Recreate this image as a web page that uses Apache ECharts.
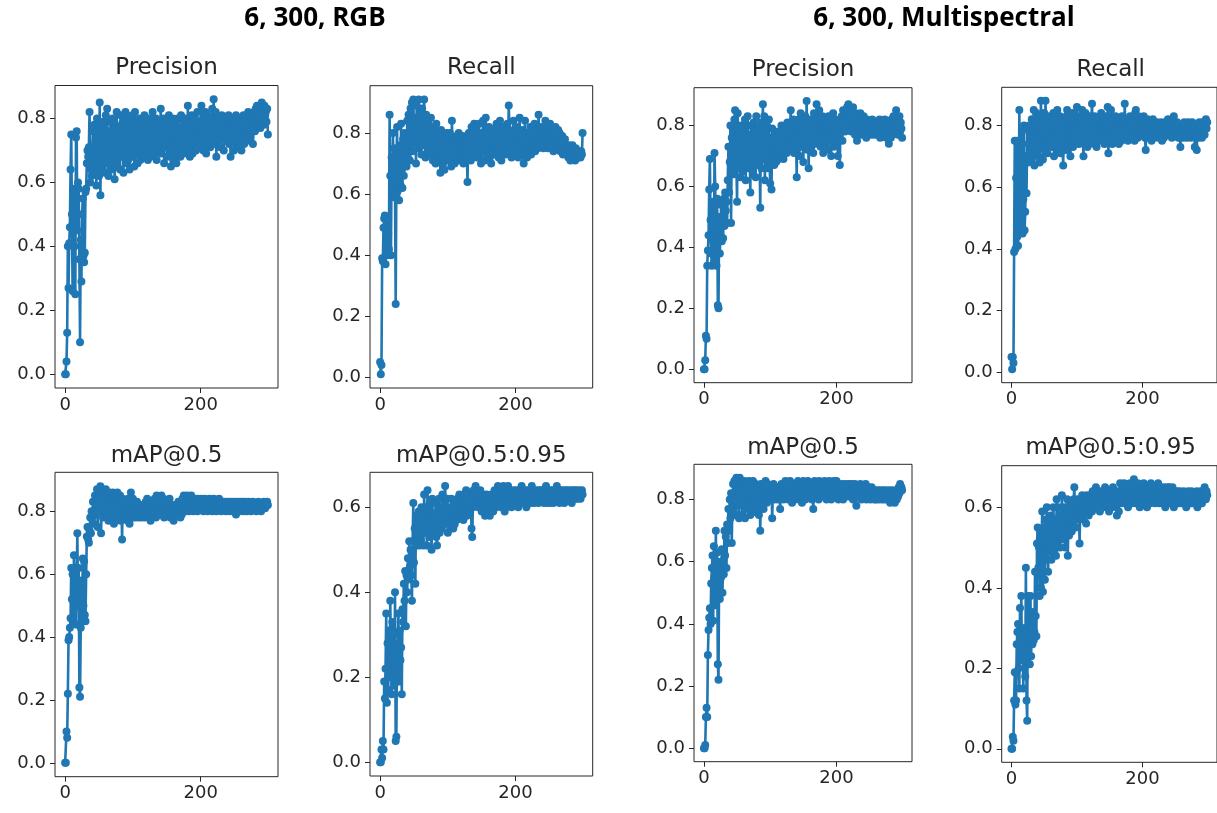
<!DOCTYPE html>
<html>
<head>
<meta charset="utf-8">
<script src="https://cdn.jsdelivr.net/npm/echarts@6/dist/echarts.min.js"></script>
<style>
  html, body { margin: 0; padding: 0; background: #ffffff; }
  #chart { width: 1217px; height: 813px; }
</style>
</head>
<body>
<div id="chart"></div>
<script>
// Per-epoch validation metrics, 300 epochs each.
const rgbPrecision = [
  0.00,0.00,0.04,0.13,0.40,0.27,0.41,0.46,0.64,0.75,0.50,0.26,0.58,0.47,0.40,0.25,0.74,0.76,0.45,0.60,
  0.58,0.36,0.10,0.42,0.29,0.50,0.55,0.37,0.35,0.38,0.57,0.58,0.66,0.70,0.68,0.71,0.82,0.60,0.64,0.62,
  0.70,0.76,0.63,0.78,0.66,0.72,0.59,0.80,0.68,0.74,0.62,0.85,0.56,0.77,0.70,0.64,0.79,0.67,0.73,0.63,
  0.81,0.66,0.83,0.70,0.62,0.76,0.68,0.79,0.64,0.72,0.80,0.66,0.74,0.61,0.78,0.69,0.82,0.65,0.75,0.70,
  0.77,0.64,0.81,0.71,0.68,0.79,0.63,0.75,0.70,0.82,0.66,0.73,0.78,0.67,0.80,0.64,0.76,0.69,0.74,0.81,
  0.68,0.77,0.65,0.82,0.72,0.69,0.79,0.66,0.75,0.71,0.80,0.67,0.74,0.78,0.70,0.76,0.68,0.81,0.72,0.75,
  0.70,0.79,0.67,0.77,0.73,0.80,0.68,0.76,0.71,0.82,0.69,0.74,0.78,0.72,0.80,0.67,0.75,0.79,0.70,0.77,
  0.73,0.83,0.69,0.78,0.71,0.80,0.66,0.76,0.72,0.79,0.74,0.68,0.77,0.81,0.70,0.75,0.65,0.78,0.72,0.80,
  0.67,0.76,0.73,0.79,0.66,0.74,0.80,0.70,0.77,0.72,0.68,0.81,0.75,0.71,0.78,0.69,0.76,0.80,0.73,0.77,
  0.70,0.84,0.74,0.79,0.68,0.77,0.72,0.81,0.69,0.76,0.80,0.73,0.78,0.70,0.75,0.82,0.71,0.77,0.74,0.79,
  0.72,0.84,0.76,0.80,0.70,0.78,0.74,0.82,0.69,0.77,0.81,0.73,0.79,0.75,0.71,0.80,0.76,0.83,0.74,0.86,
  0.78,0.72,0.82,0.68,0.77,0.75,0.80,0.73,0.79,0.71,0.76,0.81,0.74,0.78,0.70,0.77,0.80,0.73,0.76,0.79,
  0.74,0.81,0.72,0.78,0.68,0.76,0.80,0.73,0.77,0.70,0.79,0.74,0.81,0.72,0.76,0.78,0.71,0.80,0.75,0.77,
  0.70,0.79,0.74,0.81,0.72,0.77,0.80,0.75,0.78,0.73,0.82,0.76,0.79,0.74,0.81,0.77,0.80,0.72,0.78,0.82,
  0.76,0.83,0.79,0.84,0.78,0.81,0.80,0.84,0.77,0.82,0.85,0.80,0.83,0.78,0.84,0.81,0.82,0.79,0.83,0.75
];
const rgbRecall = [
  0.05,0.01,0.04,0.39,0.38,0.49,0.52,0.53,0.37,0.45,0.50,0.40,0.47,0.42,0.86,0.66,0.40,0.72,0.62,0.80,
  0.59,0.75,0.60,0.24,0.65,0.82,0.61,0.70,0.58,0.76,0.63,0.83,0.68,0.62,0.78,0.66,0.80,0.71,0.74,0.69,
  0.84,0.72,0.86,0.76,0.71,0.88,0.79,0.90,0.74,0.91,0.81,0.77,0.85,0.70,0.89,0.82,0.75,0.91,0.78,0.87,
  0.80,0.73,0.88,0.76,0.84,0.91,0.78,0.72,0.86,0.79,0.74,0.83,0.77,0.81,0.73,0.85,0.76,0.80,0.71,0.82,
  0.75,0.79,0.70,0.83,0.77,0.72,0.80,0.74,0.78,0.67,0.81,0.73,0.76,0.70,0.79,0.68,0.77,0.74,0.80,0.72,
  0.78,0.71,0.76,0.80,0.74,0.69,0.84,0.75,0.72,0.78,0.70,0.77,0.73,0.79,0.76,0.71,0.80,0.74,0.77,0.72,
  0.76,0.73,0.79,0.70,0.75,0.78,0.72,0.77,0.74,0.64,0.76,0.80,0.73,0.78,0.71,0.82,0.75,0.79,0.73,0.83,
  0.77,0.74,0.81,0.72,0.79,0.75,0.83,0.73,0.78,0.70,0.80,0.76,0.84,0.74,0.78,0.71,0.85,0.77,0.73,0.80,
  0.75,0.82,0.72,0.79,0.70,0.77,0.81,0.74,0.78,0.73,0.80,0.76,0.83,0.75,0.82,0.72,0.79,0.84,0.76,0.71,
  0.78,0.74,0.82,0.76,0.80,0.73,0.79,0.75,0.83,0.77,0.89,0.81,0.74,0.78,0.72,0.80,0.76,0.84,0.73,0.79,
  0.75,0.82,0.77,0.80,0.72,0.78,0.85,0.74,0.79,0.76,0.81,0.73,0.70,0.77,0.84,0.75,0.80,0.72,0.78,0.74,
  0.79,0.76,0.82,0.73,0.78,0.75,0.80,0.77,0.83,0.74,0.79,0.76,0.81,0.75,0.86,0.78,0.77,0.82,0.76,0.80,
  0.78,0.75,0.81,0.77,0.84,0.76,0.79,0.82,0.75,0.80,0.77,0.83,0.76,0.79,0.81,0.78,0.74,0.80,0.77,0.82,
  0.76,0.79,0.75,0.81,0.77,0.80,0.74,0.78,0.76,0.79,0.73,0.77,0.75,0.78,0.74,0.76,0.73,0.75,0.72,0.76,
  0.74,0.71,0.75,0.73,0.76,0.72,0.74,0.73,0.71,0.75,0.72,0.74,0.73,0.72,0.74,0.73,0.72,0.74,0.73,0.80
];
const rgbMap50 = [
  0.00,0.00,0.10,0.08,0.22,0.39,0.40,0.43,0.46,0.62,0.52,0.60,0.45,0.66,0.55,0.62,0.44,0.58,0.73,0.50,
  0.62,0.24,0.21,0.43,0.58,0.45,0.65,0.50,0.64,0.47,0.45,0.60,0.72,0.75,0.71,0.70,0.74,0.78,0.73,0.80,
  0.78,0.83,0.76,0.80,0.85,0.79,0.82,0.87,0.75,0.84,0.86,0.80,0.88,0.73,0.83,0.85,0.78,0.86,0.81,0.84,
  0.87,0.79,0.85,0.82,0.77,0.86,0.80,0.84,0.78,0.83,0.86,0.81,0.76,0.85,0.79,0.84,0.82,0.86,0.78,0.83,
  0.80,0.85,0.77,0.82,0.71,0.84,0.79,0.83,0.81,0.78,0.82,0.80,0.77,0.84,0.79,0.76,0.83,0.86,0.81,0.78,
  0.84,0.80,0.82,0.78,0.81,0.79,0.83,0.80,0.78,0.82,0.79,0.81,0.78,0.80,0.82,0.79,0.81,0.78,0.80,0.83,
  0.79,0.84,0.81,0.78,0.82,0.80,0.77,0.83,0.80,0.79,0.82,0.81,0.84,0.80,0.78,0.85,0.82,0.79,0.81,0.80,
  0.83,0.79,0.85,0.81,0.80,0.84,0.78,0.82,0.80,0.83,0.79,0.81,0.82,0.80,0.84,0.78,0.81,0.79,0.82,0.80,
  0.77,0.80,0.79,0.82,0.81,0.80,0.79,0.83,0.80,0.82,0.78,0.81,0.79,0.84,0.80,0.85,0.81,0.83,0.80,0.82,
  0.85,0.81,0.83,0.80,0.84,0.82,0.85,0.81,0.83,0.80,0.82,0.84,0.81,0.83,0.82,0.80,0.84,0.82,0.81,0.83,
  0.82,0.84,0.81,0.83,0.80,0.82,0.84,0.81,0.83,0.82,0.80,0.83,0.81,0.84,0.82,0.81,0.83,0.80,0.82,0.84,
  0.81,0.83,0.82,0.80,0.83,0.81,0.82,0.84,0.81,0.82,0.80,0.83,0.81,0.82,0.83,0.81,0.82,0.80,0.83,0.82,
  0.81,0.83,0.82,0.80,0.82,0.83,0.81,0.82,0.80,0.83,0.82,0.81,0.79,0.82,0.83,0.81,0.82,0.80,0.83,0.81,
  0.82,0.81,0.83,0.80,0.82,0.81,0.83,0.82,0.80,0.82,0.81,0.83,0.82,0.81,0.80,0.82,0.81,0.83,0.82,0.81,
  0.81,0.82,0.80,0.82,0.81,0.83,0.82,0.81,0.82,0.80,0.82,0.81,0.82,0.83,0.82,0.81,0.82,0.82,0.83,0.82
];
const rgbMap5095 = [
  0.00,0.00,0.03,0.01,0.05,0.03,0.19,0.15,0.22,0.35,0.14,0.28,0.17,0.31,0.20,0.38,0.25,0.16,0.33,0.22,
  0.30,0.18,0.40,0.05,0.06,0.28,0.22,0.35,0.19,0.31,0.24,0.27,0.16,0.36,0.33,0.42,0.38,0.45,0.32,0.44,
  0.40,0.48,0.43,0.52,0.46,0.50,0.44,0.38,0.52,0.61,0.47,0.55,0.42,0.58,0.51,0.56,0.53,0.59,0.51,0.57,
  0.52,0.60,0.55,0.58,0.51,0.63,0.57,0.54,0.60,0.51,0.64,0.56,0.59,0.53,0.61,0.55,0.50,0.62,0.57,0.54,
  0.58,0.55,0.61,0.53,0.51,0.59,0.56,0.62,0.54,0.60,0.57,0.55,0.63,0.58,0.56,0.61,0.65,0.59,0.57,0.62,
  0.54,0.60,0.56,0.58,0.55,0.62,0.57,0.59,0.55,0.61,0.56,0.58,0.60,0.57,0.62,0.58,0.60,0.63,0.59,0.61,
  0.58,0.62,0.60,0.57,0.63,0.59,0.61,0.64,0.58,0.62,0.60,0.63,0.59,0.61,0.62,0.55,0.53,0.60,0.64,0.61,
  0.63,0.65,0.61,0.64,0.62,0.60,0.63,0.61,0.64,0.62,0.59,0.63,0.61,0.60,0.62,0.58,0.61,0.63,0.60,0.59,
  0.62,0.60,0.58,0.61,0.63,0.60,0.62,0.59,0.61,0.64,0.62,0.60,0.63,0.61,0.65,0.62,0.64,0.61,0.63,0.60,
  0.64,0.62,0.65,0.61,0.59,0.63,0.60,0.64,0.62,0.65,0.63,0.61,0.64,0.62,0.60,0.63,0.61,0.64,0.62,0.63,
  0.61,0.64,0.62,0.63,0.60,0.64,0.62,0.61,0.63,0.65,0.62,0.64,0.61,0.63,0.62,0.64,0.60,0.63,0.61,0.64,
  0.62,0.64,0.63,0.61,0.65,0.62,0.64,0.63,0.61,0.63,0.62,0.64,0.62,0.63,0.61,0.64,0.63,0.62,0.64,0.63,
  0.62,0.64,0.61,0.63,0.62,0.65,0.63,0.61,0.64,0.62,0.63,0.61,0.64,0.62,0.63,0.64,0.61,0.63,0.62,0.64,
  0.63,0.65,0.62,0.64,0.63,0.61,0.64,0.62,0.63,0.64,0.62,0.63,0.61,0.64,0.63,0.62,0.64,0.63,0.62,0.63,
  0.64,0.62,0.63,0.61,0.64,0.63,0.62,0.64,0.63,0.62,0.64,0.63,0.62,0.63,0.64,0.63,0.62,0.63,0.64,0.63
];
const msPrecision = [
  0.00,0.00,0.03,0.11,0.10,0.34,0.39,0.44,0.59,0.69,0.49,0.38,0.34,0.55,0.42,0.35,0.71,0.60,0.45,0.34,
  0.56,0.21,0.20,0.50,0.38,0.44,0.54,0.42,0.48,0.43,0.56,0.47,0.58,0.52,0.55,0.48,0.62,0.73,0.58,0.68,
  0.80,0.48,0.76,0.70,0.78,0.64,0.82,0.85,0.72,0.68,0.55,0.84,0.66,0.78,0.71,0.63,0.80,0.69,0.75,0.65,
  0.79,0.67,0.82,0.62,0.74,0.70,0.83,0.66,0.77,0.72,0.58,0.80,0.68,0.75,0.64,0.81,0.71,0.78,0.63,0.83,
  0.70,0.76,0.67,0.79,0.72,0.53,0.81,0.66,0.74,0.87,0.69,0.83,0.62,0.77,0.71,0.80,0.66,0.75,0.82,0.68,
  0.61,0.76,0.59,0.79,0.70,0.74,0.67,0.77,0.72,0.68,0.75,0.71,0.78,0.69,0.73,0.76,0.70,0.80,0.72,0.74,
  0.69,0.78,0.73,0.80,0.75,0.71,0.81,0.74,0.77,0.72,0.79,0.85,0.73,0.78,0.76,0.82,0.71,0.79,0.74,0.77,
  0.63,0.80,0.75,0.82,0.70,0.78,0.84,0.73,0.79,0.76,0.68,0.81,0.74,0.83,0.77,0.88,0.72,0.80,0.66,0.78,
  0.75,0.82,0.73,0.79,0.77,0.71,0.84,0.76,0.80,0.74,0.87,0.78,0.82,0.75,0.85,0.79,0.73,0.81,0.76,0.83,
  0.71,0.79,0.76,0.82,0.74,0.80,0.77,0.72,0.83,0.78,0.75,0.81,0.70,0.79,0.76,0.84,0.73,0.80,0.77,0.82,
  0.74,0.81,0.70,0.79,0.76,0.67,0.80,0.78,0.83,0.75,0.85,0.80,0.82,0.78,0.84,0.81,0.86,0.79,0.87,0.83,
  0.80,0.85,0.78,0.83,0.81,0.86,0.79,0.82,0.77,0.84,0.80,0.75,0.83,0.79,0.81,0.78,0.84,0.80,0.77,0.82,
  0.79,0.83,0.77,0.81,0.80,0.76,0.82,0.78,0.80,0.79,0.81,0.77,0.80,0.78,0.82,0.79,0.77,0.81,0.80,0.78,
  0.80,0.77,0.81,0.79,0.78,0.82,0.76,0.80,0.79,0.81,0.77,0.80,0.78,0.82,0.79,0.76,0.80,0.78,0.81,0.74,
  0.78,0.80,0.76,0.82,0.79,0.77,0.83,0.80,0.78,0.81,0.85,0.79,0.82,0.77,0.80,0.83,0.78,0.81,0.79,0.76
];
const msRecall = [
  0.05,0.01,0.05,0.03,0.39,0.75,0.40,0.63,0.75,0.44,0.41,0.47,0.85,0.46,0.60,0.50,0.78,0.45,0.56,0.80,
  0.46,0.52,0.70,0.58,0.79,0.68,0.74,0.80,0.71,0.77,0.69,0.82,0.73,0.78,0.85,0.67,0.80,0.72,0.84,0.75,
  0.79,0.70,0.83,0.68,0.76,0.88,0.73,0.81,0.69,0.78,0.84,0.72,0.88,0.75,0.80,0.71,0.83,0.77,0.74,0.82,
  0.76,0.81,0.73,0.79,0.84,0.70,0.78,0.82,0.74,0.80,0.85,0.72,0.79,0.76,0.83,0.71,0.80,0.77,0.73,0.67,
  0.81,0.75,0.78,0.72,0.83,0.85,0.74,0.79,0.76,0.82,0.70,0.80,0.77,0.84,0.73,0.79,0.81,0.75,0.78,0.83,
  0.86,0.76,0.81,0.74,0.79,0.83,0.77,0.80,0.85,0.75,0.70,0.82,0.78,0.84,0.76,0.80,0.73,0.81,0.77,0.83,
  0.79,0.75,0.82,0.87,0.77,0.80,0.74,0.83,0.78,0.81,0.73,0.79,0.76,0.82,0.75,0.80,0.78,0.84,0.76,0.81,
  0.77,0.82,0.74,0.80,0.78,0.83,0.75,0.86,0.71,0.79,0.81,0.76,0.85,0.78,0.74,0.82,0.77,0.80,0.75,0.83,
  0.78,0.81,0.76,0.80,0.74,0.82,0.77,0.79,0.75,0.83,0.78,0.80,0.76,0.87,0.79,0.81,0.77,0.82,0.75,0.80,
  0.78,0.83,0.76,0.81,0.79,0.77,0.82,0.80,0.75,0.84,0.85,0.78,0.81,0.76,0.83,0.79,0.77,0.82,0.80,0.78,
  0.81,0.77,0.83,0.79,0.76,0.72,0.80,0.78,0.82,0.76,0.79,0.81,0.77,0.80,0.75,0.78,0.82,0.76,0.79,0.77,
  0.80,0.77,0.81,0.78,0.76,0.80,0.79,0.77,0.81,0.78,0.75,0.80,0.78,0.76,0.81,0.79,0.77,0.80,0.78,0.82,
  0.79,0.77,0.81,0.78,0.80,0.76,0.79,0.82,0.83,0.78,0.80,0.77,0.79,0.81,0.78,0.76,0.80,0.77,0.73,0.79,
  0.78,0.80,0.76,0.79,0.81,0.77,0.80,0.78,0.76,0.79,0.81,0.78,0.77,0.80,0.76,0.79,0.81,0.77,0.78,0.80,
  0.73,0.79,0.77,0.72,0.80,0.78,0.76,0.81,0.77,0.79,0.80,0.76,0.81,0.78,0.79,0.77,0.80,0.82,0.79,0.81
];
const msMap50 = [
  0.00,0.00,0.01,0.10,0.13,0.10,0.30,0.38,0.42,0.45,0.40,0.53,0.58,0.62,0.41,0.65,0.55,0.46,0.70,0.50,
  0.63,0.27,0.22,0.58,0.48,0.60,0.55,0.64,0.50,0.60,0.56,0.70,0.62,0.68,0.58,0.72,0.66,0.77,0.70,0.80,
  0.74,0.82,0.66,0.79,0.85,0.76,0.86,0.80,0.75,0.87,0.83,0.78,0.86,0.74,0.87,0.81,0.84,0.79,0.75,0.85,
  0.82,0.86,0.74,0.84,0.79,0.85,0.81,0.77,0.86,0.80,0.75,0.84,0.82,0.78,0.86,0.80,0.83,0.76,0.85,0.81,
  0.78,0.84,0.80,0.75,0.82,0.70,0.85,0.79,0.83,0.81,0.77,0.84,0.80,0.86,0.82,0.79,0.85,0.81,0.83,0.80,
  0.84,0.81,0.83,0.74,0.82,0.85,0.80,0.83,0.81,0.84,0.82,0.80,0.83,0.81,0.84,0.77,0.82,0.85,0.81,0.83,
  0.80,0.84,0.82,0.86,0.81,0.83,0.85,0.80,0.84,0.82,0.86,0.81,0.83,0.79,0.84,0.82,0.85,0.80,0.83,0.81,
  0.84,0.82,0.86,0.80,0.83,0.85,0.81,0.84,0.79,0.83,0.86,0.82,0.84,0.80,0.85,0.83,0.81,0.86,0.82,0.84,
  0.81,0.85,0.83,0.80,0.84,0.77,0.82,0.86,0.83,0.81,0.85,0.82,0.84,0.80,0.86,0.83,0.81,0.85,0.82,0.84,
  0.83,0.81,0.86,0.82,0.84,0.80,0.85,0.83,0.81,0.86,0.82,0.84,0.80,0.85,0.83,0.82,0.86,0.81,0.84,0.83,
  0.86,0.82,0.84,0.80,0.85,0.83,0.81,0.84,0.82,0.85,0.80,0.83,0.84,0.81,0.85,0.82,0.84,0.83,0.81,0.85,
  0.82,0.84,0.81,0.85,0.83,0.80,0.84,0.82,0.85,0.81,0.78,0.83,0.82,0.84,0.81,0.83,0.85,0.82,0.80,0.84,
  0.83,0.81,0.84,0.82,0.85,0.80,0.83,0.82,0.84,0.81,0.83,0.80,0.82,0.84,0.81,0.83,0.82,0.80,0.83,0.81,
  0.80,0.82,0.83,0.81,0.80,0.82,0.83,0.81,0.82,0.80,0.83,0.81,0.82,0.80,0.83,0.81,0.82,0.80,0.82,0.83,
  0.81,0.79,0.82,0.80,0.83,0.81,0.80,0.82,0.79,0.81,0.83,0.80,0.82,0.81,0.84,0.82,0.85,0.83,0.84,0.83
];
const msMap5095 = [
  0.00,0.00,0.03,0.02,0.12,0.19,0.11,0.12,0.26,0.29,0.31,0.20,0.15,0.35,0.27,0.38,0.22,0.30,0.15,0.29,
  0.25,0.18,0.45,0.12,0.07,0.38,0.27,0.33,0.21,0.38,0.23,0.30,0.26,0.34,0.27,0.29,0.44,0.33,0.28,0.51,
  0.55,0.45,0.50,0.38,0.54,0.40,0.52,0.59,0.39,0.55,0.48,0.42,0.57,0.47,0.60,0.50,0.44,0.56,0.49,0.53,
  0.58,0.47,0.55,0.52,0.60,0.49,0.57,0.53,0.48,0.62,0.51,0.56,0.60,0.53,0.50,0.58,0.55,0.63,0.52,0.57,
  0.54,0.60,0.50,0.58,0.55,0.62,0.48,0.57,0.53,0.60,0.56,0.61,0.54,0.59,0.57,0.62,0.65,0.58,0.55,0.60,
  0.58,0.62,0.57,0.60,0.51,0.59,0.61,0.58,0.63,0.60,0.57,0.62,0.59,0.61,0.56,0.63,0.60,0.62,0.58,0.61,
  0.63,0.60,0.62,0.59,0.64,0.61,0.63,0.60,0.62,0.65,0.61,0.63,0.60,0.64,0.62,0.59,0.63,0.61,0.64,0.62,
  0.60,0.63,0.61,0.65,0.62,0.60,0.64,0.61,0.63,0.59,0.62,0.64,0.61,0.63,0.60,0.65,0.62,0.64,0.61,0.63,
  0.62,0.58,0.64,0.61,0.59,0.63,0.66,0.62,0.64,0.61,0.65,0.63,0.66,0.62,0.64,0.61,0.65,0.63,0.60,0.64,
  0.63,0.66,0.62,0.64,0.61,0.65,0.63,0.67,0.62,0.64,0.61,0.65,0.63,0.66,0.62,0.64,0.60,0.63,0.65,0.62,
  0.64,0.61,0.66,0.63,0.65,0.62,0.64,0.60,0.63,0.65,0.62,0.64,0.61,0.66,0.63,0.65,0.62,0.64,0.63,0.61,
  0.65,0.62,0.64,0.63,0.66,0.61,0.64,0.62,0.65,0.63,0.61,0.64,0.62,0.65,0.63,0.60,0.64,0.62,0.65,0.63,
  0.62,0.65,0.63,0.61,0.64,0.62,0.65,0.63,0.60,0.64,0.62,0.63,0.61,0.64,0.62,0.63,0.61,0.64,0.62,0.63,
  0.61,0.63,0.62,0.64,0.61,0.63,0.62,0.60,0.63,0.61,0.64,0.62,0.63,0.61,0.62,0.64,0.61,0.63,0.62,0.61,
  0.63,0.61,0.62,0.64,0.60,0.63,0.62,0.61,0.63,0.64,0.62,0.61,0.63,0.62,0.64,0.65,0.63,0.62,0.64,0.63
];

// Headings and tick values
const groupTitles = ['6, 300, RGB', '6, 300, Multispectral'];
const metricTitles = ['Precision', 'Recall', 'mAP@0.5', 'mAP@0.5:0.95'];
const xTicks = [0, 200];
const yTicksFull = [0, 0.2, 0.4, 0.6, 0.8];
const yTicksShort = [0, 0.2, 0.4, 0.6];

// One entry per subplot: series, heading, ticks and its plot box [left, top, width, height]
const panels = [
  { data: rgbPrecision, title: metricTitles[0], yTicks: yTicksFull,  box: [55, 85.5, 223, 302.5],  titleY: 68.5 },
  { data: rgbRecall,    title: metricTitles[1], yTicks: yTicksFull,  box: [370, 85.7, 222.7, 302.3], titleY: 68.5 },
  { data: msPrecision,  title: metricTitles[0], yTicks: yTicksFull,  box: [694, 87.7, 218, 295],    titleY: 70.5 },
  { data: msRecall,     title: metricTitles[1], yTicks: yTicksFull,  box: [1001.7, 87.3, 218, 295.4], titleY: 70.5 },
  { data: rgbMap50,     title: metricTitles[2], yTicks: yTicksFull,  box: [55, 472.3, 223, 304.4],  titleY: 456 },
  { data: rgbMap5095,   title: metricTitles[3], yTicks: yTicksShort, box: [370, 472.3, 222.7, 303.7], titleY: 456 },
  { data: msMap50,      title: metricTitles[2], yTicks: yTicksFull,  box: [694, 464.3, 218, 297.4],  titleY: 448 },
  { data: msMap5095,    title: metricTitles[3], yTicks: yTicksShort, box: [1001.7, 465.7, 218, 296.6], titleY: 448 }
];

const BLUE = '#1f77b4';
const INK = '#262626';
const tickFont = { fontFamily: 'DejaVu Sans', fontSize: 18, color: INK };

// Axis extents padded by 5% of the data span on each side
function paddedRange(lo, hi) {
  const pad = (hi - lo) * 0.05;
  return [lo - pad, hi + pad];
}

const grids = [], xAxes = [], yAxes = [], series = [], titles = [];

panels.forEach((p, i) => {
  const [left, top, width, height] = p.box;
  grids.push({ left, top, width, height, show: true, borderColor: INK, borderWidth: 1, backgroundColor: 'transparent', containLabel: false });

  const xr = paddedRange(0, p.data.length - 1);
  const yr = paddedRange(Math.min(...p.data), Math.max(...p.data));

  xAxes.push({
    type: 'value', gridIndex: i, min: xr[0], max: xr[1], position: 'bottom',
    axisLine: { show: false, onZero: false },
    splitLine: { show: false },
    axisTick: { show: true, customValues: xTicks, length: 5, lineStyle: { color: INK, width: 1 } },
    axisLabel: Object.assign({ customValues: xTicks, margin: 8, formatter: v => String(v) }, tickFont)
  });
  yAxes.push({
    type: 'value', gridIndex: i, min: yr[0], max: yr[1], position: 'left',
    axisLine: { show: false, onZero: false },
    splitLine: { show: false },
    axisTick: { show: true, customValues: p.yTicks, length: 5, lineStyle: { color: INK, width: 1 } },
    axisLabel: Object.assign({ customValues: p.yTicks, margin: 9, formatter: v => v.toFixed(1) }, tickFont)
  });

  series.push({
    type: 'line', xAxisIndex: i, yAxisIndex: i,
    data: p.data.map((v, k) => [k, v]),
    symbol: 'circle', symbolSize: 8, showSymbol: true, showAllSymbol: true,
    lineStyle: { color: BLUE, width: 2.6 },
    itemStyle: { color: BLUE, borderWidth: 0 },
    emphasis: { disabled: true },
    silent: true, animation: false
  });

  titles.push({
    text: p.title, left: left + width / 2, top: p.titleY,
    textAlign: 'center', textVerticalAlign: 'middle', padding: 0,
    textStyle: { fontFamily: 'DejaVu Sans', fontSize: 23, fontWeight: 'normal', color: INK }
  });
});

// Group headings above each block of four subplots
const groupCentres = [315, 944];
groupTitles.forEach((t, i) => {
  titles.push({
    text: t, left: groupCentres[i], top: 19,
    textAlign: 'center', textVerticalAlign: 'middle', padding: 0,
    textStyle: { fontFamily: 'Open Sans', fontSize: 26, fontWeight: 'bold', color: '#000000' }
  });
});

const chart = echarts.init(document.getElementById('chart'), null, { renderer: 'canvas' });
chart.setOption({
  animation: false,
  backgroundColor: '#ffffff',
  title: titles,
  grid: grids,
  xAxis: xAxes,
  yAxis: yAxes,
  series: series
});
</script>
</body>
</html>
